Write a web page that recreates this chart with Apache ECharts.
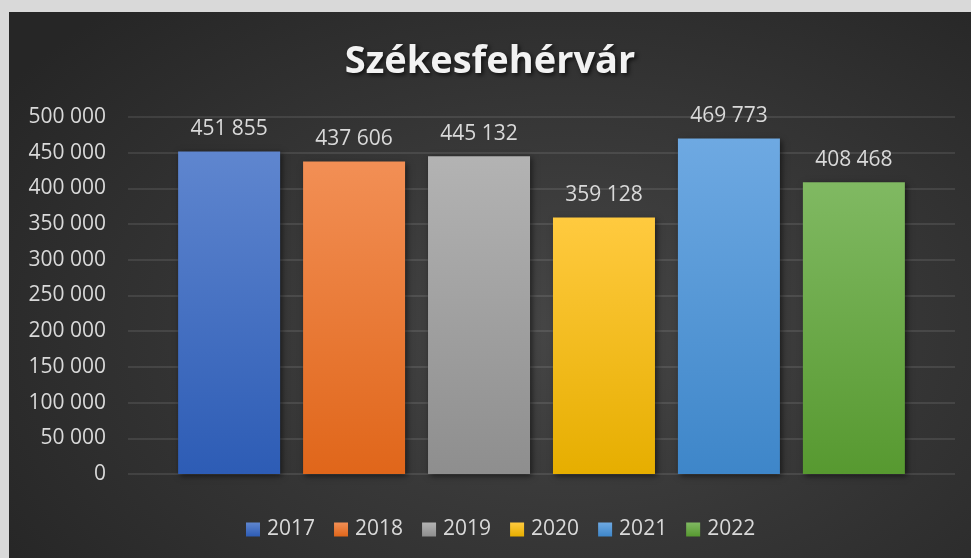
<!DOCTYPE html>
<html>
<head>
<meta charset="utf-8">
<script src="https://cdn.jsdelivr.net/npm/echarts@6/dist/echarts.min.js"></script>
<style>
  html, body { margin: 0; padding: 0; background: #d9d9d9; }
  #wrap { position: relative; width: 971px; height: 558px; background: #d9d9d9; overflow: hidden; }
  #chart {
    position: absolute; left: 9px; top: 12px; width: 962px; height: 546px;
    background: radial-gradient(ellipse 70% 80% at 58% 58%, #464646 0%, #393939 40%, #262626 100%);
  }
</style>
</head>
<body>
<div id="wrap"><div id="chart"></div></div>
<script>
// adatok
var years = ['2017', '2018', '2019', '2020', '2021', '2022'];
var values = [451855, 437606, 445132, 359128, 469773, 408468];
var yMin = 0, yMax = 500000, yStep = 50000;

// szinek (felso / also)
var topColors = ['#5f86cf', '#f28f55', '#b3b3b3', '#ffca3f', '#6ea9e2', '#80b962'];
var bottomColors = ['#2d5cb5', '#e0661a', '#8e8e8e', '#e6ae00', '#3e86c9', '#579930'];

function fmt(v) {
  return String(v).replace(/\B(?=(\d{3})+(?!\d))/g, ' ');
}

var FONT = '"Open Sans", "DejaVu Sans", sans-serif';
var TXT = '#d9d9d9';

var chart = echarts.init(document.getElementById('chart'), null, { renderer: 'canvas' });

var series = years.map(function (y, i) {
  return {
    name: y,
    type: 'bar',
    barWidth: 102,
    barGap: '22.5%',
    data: [values[i]],
    itemStyle: {
      color: new echarts.graphic.LinearGradient(0, 0, 0, 1, [
        { offset: 0, color: topColors[i] },
        { offset: 1, color: bottomColors[i] }
      ]),
      shadowColor: 'rgba(0,0,0,0.55)',
      shadowBlur: 6,
      shadowOffsetX: 2,
      shadowOffsetY: 2
    },
    label: {
      show: true,
      position: 'top',
      distance: 12,
      color: TXT,
      fontFamily: FONT,
      fontSize: 21,
      formatter: function (p) { return fmt(p.value); }
    }
  };
});

var option = {
  animation: false,
  title: {
    text: 'Székesfehérvár',
    left: 'center',
    top: 26,
    textStyle: {
      color: '#f2f2f2',
      fontFamily: FONT,
      fontWeight: 'bold',
      fontSize: 38,
      textShadowColor: 'rgba(0,0,0,0.7)',
      textShadowBlur: 4,
      textShadowOffsetX: 2,
      textShadowOffsetY: 2
    }
  },
  legend: {
    data: years,
    left: 232,
    top: 502,
    icon: 'rect',
    itemWidth: 14,
    itemHeight: 14,
    itemGap: 19,
    textStyle: { color: TXT, fontFamily: FONT, fontSize: 21, padding: [0, 0, 0, 2] }
  },
  grid: {
    left: 119,
    right: 16,
    top: 105,
    bottom: 84,
    containLabel: false
  },
  xAxis: {
    type: 'category',
    data: [''],
    axisLine: { show: false },
    axisTick: { show: false },
    axisLabel: { show: false }
  },
  yAxis: {
    type: 'value',
    min: yMin,
    max: yMax,
    interval: yStep,
    axisLine: { show: false },
    axisTick: { show: false },
    axisLabel: {
      color: TXT,
      fontFamily: FONT,
      fontSize: 21,
      margin: 22,
      formatter: function (v) { return fmt(v); }
    },
    splitLine: { lineStyle: { color: 'rgba(255,255,255,0.13)', width: 1.5 } }
  },
  series: series
};

chart.setOption(option);
</script>
</body>
</html>
